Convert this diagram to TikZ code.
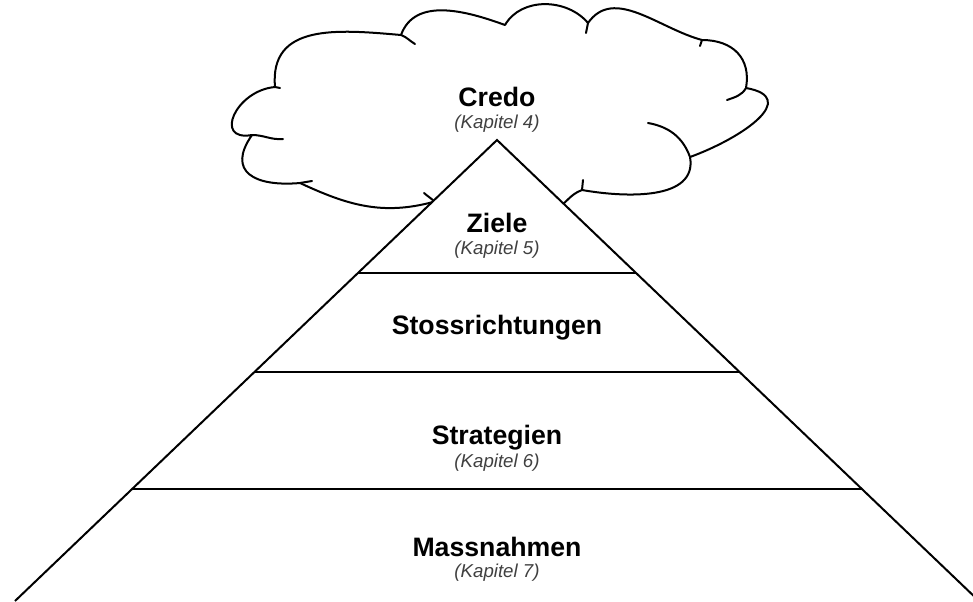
\documentclass[tikz,border=0pt]{standalone}
\usepackage{fontspec}
\setmainfont{Liberation Sans}
\usetikzlibrary{calc}
\begin{document}
\begin{tikzpicture}[x=0.75pt,y=-0.75pt,
  titel/.style={font=\fontsize{20}{24}\selectfont\bfseries},
  kapitel/.style={font=\fontsize{14}{17}\selectfont\itshape,text=black!75},
  linje/.style={line width=1.5pt},
  moln/.style={line width=1.5pt,line join=round,line cap=round}]
\useasboundingbox (0,0) rectangle (973,601);

% Wolke (Credo)
\draw[moln] (440,210) -- (433,202)
  to[out=195,in=-25] (300,183)
  to[out=185,in=235,looseness=1.7] (252,135)
  to[out=190,in=185,looseness=1.9] (275,87)
  to[out=95,in=175,looseness=1.2] (401,35)
  to[out=70,in=160] (505,25)
  to[out=60,in=130] (588,23)
  to[out=55,in=165] (702,40)
  to[out=0,in=80,looseness=1.2] (746,88)
  to[out=-10,in=20,looseness=1.6] (690,157)
  to[out=-80,in=-10] (582,190)
  to[out=200,in=30] (555,210);
% Zacken der Wolke
\draw[moln] (401,35) to[out=-20,in=150] (415,44);
\draw[moln] (588,23) -- (586,33);
\draw[moln] (702,40) -- (700,46);
\draw[moln] (746,88) to[out=240,in=20] (727,100);
\draw[moln] (690,157) to[out=110,in=-10] (648,123);
\draw[moln] (582,190) -- (583,180);
\draw[moln] (275,87) -- (280,88);
\draw[moln] (252,135) to[out=0,in=185] (283,139);
\draw[moln] (300,183) -- (312,181);
\draw[moln] (424,193) to[out=-40,in=140] (434,201);

% Pyramide
\coordinate (spitze) at (497,140);
\coordinate (ul) at (15,601);
\coordinate (ur) at (979,601);
\fill[white] (ul) -- (spitze) -- (ur) -- cycle;
\draw[linje,line join=miter] (ul) -- (spitze) -- (ur);

% Trennlinien
\foreach \t in {0.2885,0.503,0.757}
  \draw[linje] ($(spitze)!\t!(ul)$) -- ($(spitze)!\t!(ur)$);

% Texte
\node[titel] (credo) at (497,97) {Credo};
\node[kapitel] (k4) at (497,124) {(Kapitel 4)};
\node[titel] (ziele) at (497,223) {Ziele};
\node[kapitel] (k5) at (497,250) {(Kapitel 5)};
\node[titel] (stoss) at (497,328) {Stossrichtungen};
\node[titel] (strat) at (497,438) {Strategien};
\node[kapitel] (k6) at (497,463) {(Kapitel 6)};
\node[titel] (mass) at (497,547) {Massnahmen};
\node[kapitel] (k7) at (497,573) {(Kapitel 7)};
\end{tikzpicture}
\end{document}
